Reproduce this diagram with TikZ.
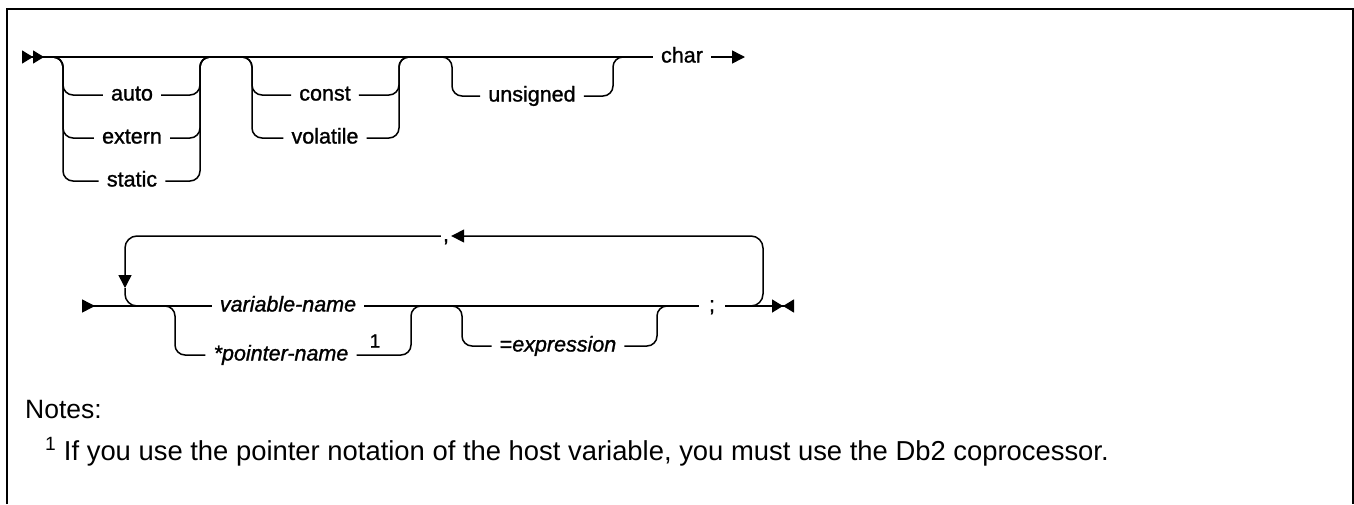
\documentclass[tikz,border=0pt]{standalone}
\usepackage{fontspec}
\setmainfont{Liberation Sans}
\newfontfamily\railfont{Liberation Sans}[FakeBold=1.2]
\usepackage{tikz}
\usetikzlibrary{arrows.meta, positioning}

\tikzset{
  rail/.style={line width=1.5pt, rounded corners=10pt},
  kw/.style={font=\fontsize{21.5}{24}\railfont, inner xsep=8pt, inner ysep=0pt,
             text height=15pt, text depth=4pt},
  var/.style={kw, font=\fontsize{21.5}{24}\railfont\itshape},
  fnmark/.style={font=\fontsize{19}{20}\railfont, inner sep=0pt},
  notetext/.style={font=\fontsize{26.5}{30}\selectfont, anchor=base west, inner sep=0pt},
}

\begin{document}
\begin{tikzpicture}[x=1pt, y=-1pt, >={Triangle[length=13pt, width=13pt]}]
  \useasboundingbox (0,0) rectangle (1354,504);

  % frame
  \draw[line width=2pt] (6.5,504) -- (6.5,9) -- (1352.5,9) -- (1352.5,504);

  % one alternative below the rail: {style}{in}{out}{name}{x}{y}{text}
  \def\altrow#1#2#3#4#5#6#7{%
    \node[#1] (#4) at (#5,#6) {#7};
    \draw[rail] (#2) -- ++(10,0) |- (#4.west);
    \draw[rail] (#4.east) -| ([xshift=-10pt]#3.center) -- (#3);
  }

  % first line
  \coordinate (s1) at (22,57);
  \node[kw] (char) at (682,57) {char};
  \coordinate (e1) at (745,57);
  \draw[rail, {>[length=11pt]>[length=11pt]}-] (s1) -- (char.west);
  \draw[rail, ->] (char.east) -- (e1);

  \coordinate (a1) at (53,57);
  \coordinate (b1) at (210,57);
  \altrow{kw}{a1}{b1}{auto}{132}{95}{auto}
  \altrow{kw}{a1}{b1}{extern}{132}{138}{extern}
  \altrow{kw}{a1}{b1}{static}{132}{181}{static}

  \coordinate (a2) at (242,57);
  \coordinate (b2) at (409,57);
  \altrow{kw}{a2}{b2}{const}{325}{95}{const}
  \altrow{kw}{a2}{b2}{volatile}{325}{138}{volatile}

  \coordinate (a3) at (442,57);
  \coordinate (b3) at (623,57);
  \altrow{kw}{a3}{b3}{unsigned}{532}{96}{unsigned}

  % second line
  \coordinate (s2) at (82,306);
  \node[var] (varname) at (288,306) {variable-name};
  \node[kw, inner xsep=10pt] (semi) at (712,306) {;};
  \coordinate (e2) at (794,306);
  \draw[rail, >-] (s2) -- (varname.west);
  \draw[rail] (varname.east) -- (semi.west);
  \draw[rail, -{>[length=11pt]<[length=11pt]}] (semi.east) -- (e2);

  \coordinate (a4) at (165,306);
  \coordinate (b4) at (421,306);
  \altrow{var}{a4}{b4}{pointer}{281}{355}{*pointer-name}
  \node[fnmark] (fnref) at (375,341) {1};

  \coordinate (a5) at (452,306);
  \coordinate (b5) at (667,306);
  \altrow{kw}{a5}{b5}{expr}{558}{346}{=\textit{expression}}

  % repeat loop
  \node[kw, inner xsep=2pt] (comma) at (446,236) {,};
  \coordinate (lpR) at (751,306);
  \coordinate (lpTR) at (763,236);
  \coordinate (lpdn) at (125,288);
  \coordinate (lpL) at (140,306);
  \draw[rail, rounded corners=12pt, ->] (lpR) -| (lpTR) -- (comma.east);
  \draw[rail, rounded corners=12pt, ->] (comma.west) -| (lpdn);
  \draw[rail, rounded corners=12pt] (lpdn) |- (lpL);

  % notes
  \node[notetext] (notes) at (25,418) {Notes:};
  \node[notetext, font=\fontsize{27.4}{30}\selectfont] (fn) at (45,460)
    {\textsuperscript{1} If you use the pointer notation of the host variable, you must use the Db2 coprocessor.};
\end{tikzpicture}
\end{document}
